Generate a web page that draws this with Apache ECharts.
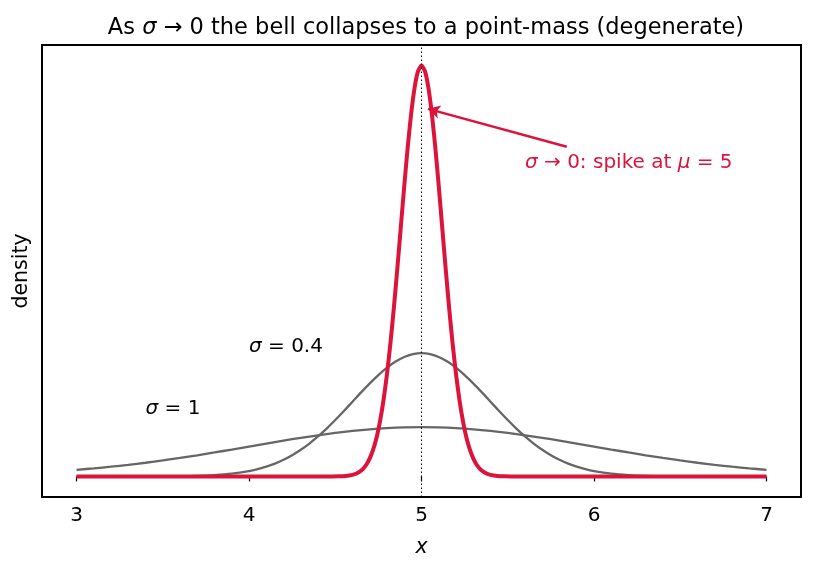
<!DOCTYPE html>
<html>
<head>
<meta charset="utf-8">
<script src="https://cdn.jsdelivr.net/npm/echarts@6/dist/echarts.min.js"></script>
<style>
  html, body { margin: 0; padding: 0; background: #fff; }
  #chart { width: 815px; height: 573px; }
</style>
</head>
<body>
<div id="chart"></div>
<script>
// x grid for the sigma = 1 curve
var xs1 = [3.0, 3.1, 3.2, 3.3, 3.4, 3.5, 3.6, 3.7, 3.8, 3.9,
  4.0, 4.1, 4.2, 4.3, 4.4, 4.5, 4.6, 4.7, 4.8, 4.9,
  5.0, 5.1, 5.2, 5.3, 5.4, 5.5, 5.6, 5.7, 5.8, 5.9,
  6.0, 6.1, 6.2, 6.3, 6.4, 6.5, 6.6, 6.7, 6.8, 6.9, 7.0];
var sigma1 = [0.0540, 0.0656, 0.0790, 0.0940, 0.1109, 0.1295, 0.1497, 0.1714, 0.1942, 0.2179,
  0.2420, 0.2661, 0.2897, 0.3123, 0.3332, 0.3521, 0.3683, 0.3814, 0.3910, 0.3970,
  0.3989, 0.3970, 0.3910, 0.3814, 0.3683, 0.3521, 0.3332, 0.3123, 0.2897, 0.2661,
  0.2420, 0.2179, 0.1942, 0.1714, 0.1497, 0.1295, 0.1109, 0.0940, 0.0790, 0.0656, 0.0540];

// sigma = 0.4 (denser around the middle)
var xs04 = [3.0, 3.1, 3.2, 3.3, 3.4, 3.5, 3.6, 3.7, 3.8, 3.9,
  4.0, 4.05, 4.1, 4.15, 4.2, 4.25, 4.3, 4.35, 4.4, 4.45,
  4.5, 4.55, 4.6, 4.65, 4.7, 4.75, 4.8, 4.85, 4.9, 4.95,
  5.0, 5.05, 5.1, 5.15, 5.2, 5.25, 5.3, 5.35, 5.4, 5.45,
  5.5, 5.55, 5.6, 5.65, 5.7, 5.75, 5.8, 5.85, 5.9, 5.95,
  6.0, 6.1, 6.2, 6.3, 6.4, 6.5, 6.6, 6.7, 6.8, 6.9, 7.0];
var sigma04 = [0.0000, 0.0000, 0.0000, 0.0001, 0.0003, 0.0009, 0.0022, 0.0051, 0.0111, 0.0227,
  0.0438, 0.0594, 0.0794, 0.1043, 0.1350, 0.1720, 0.2158, 0.2663, 0.3238, 0.3875,
  0.4566, 0.5297, 0.6049, 0.6801, 0.7528, 0.8204, 0.8802, 0.9296, 0.9667, 0.9896,
  0.9974, 0.9896, 0.9667, 0.9296, 0.8802, 0.8204, 0.7528, 0.6801, 0.6049, 0.5297,
  0.4566, 0.3875, 0.3238, 0.2663, 0.2158, 0.1720, 0.1350, 0.1043, 0.0794, 0.0594,
  0.0438, 0.0227, 0.0111, 0.0051, 0.0022, 0.0009, 0.0003, 0.0001, 0.0000, 0.0000, 0.0000];

// the spike (sigma -> 0)
var xsSpike = [3.0, 4.4, 4.48, 4.52, 4.56, 4.60, 4.62, 4.64, 4.66, 4.68,
  4.70, 4.72, 4.74, 4.76, 4.78, 4.80, 4.82, 4.84, 4.86, 4.88,
  4.90, 4.92, 4.94, 4.96, 4.98, 5.00, 5.02, 5.04, 5.06, 5.08,
  5.10, 5.12, 5.14, 5.16, 5.18, 5.20, 5.22, 5.24, 5.26, 5.28,
  5.30, 5.32, 5.34, 5.36, 5.38, 5.40, 5.44, 5.48, 5.52, 5.6, 7.0];
var spike = [0, 0, 0.0003, 0.0011, 0.0040, 0.0129, 0.0221, 0.0369, 0.0601, 0.0950,
  0.1461, 0.2185, 0.3179, 0.4499, 0.6193, 0.8290, 1.0793, 1.3667, 1.6833, 2.0164,
  2.3493, 2.6621, 2.9339, 3.1449, 3.2787, 3.3245, 3.2787, 3.1449, 2.9339, 2.6621,
  2.3493, 2.0164, 1.6833, 1.3667, 1.0793, 0.8290, 0.6193, 0.4499, 0.3179, 0.2185,
  0.1461, 0.0950, 0.0601, 0.0369, 0.0221, 0.0129, 0.0040, 0.0011, 0.0003, 0, 0];

var xTicks = [3, 4, 5, 6, 7];
var mu = 5;

function pairs(x, y) {
  return x.map(function (v, i) { return [v, y[i]]; });
}

var font = 'DejaVu Sans';
var crimson = '#DC143C';
var gray = '#666666';

function richFor(color, size) {
  return {
    i: { fontFamily: font, fontStyle: 'italic', fontSize: size, color: color },
    n: { fontFamily: font, fontSize: size, color: color }
  };
}

var chart = echarts.init(document.getElementById('chart'));

chart.setOption({
  animation: false,
  title: {
    text: '{n|As }{i|σ}{n| → 0 the bell collapses to a point-mass (degenerate)}',
    left: 421,
    top: 12,
    textAlign: 'center',
    textStyle: {
      fontFamily: font,
      fontSize: 22.5,
      fontWeight: 'normal',
      color: '#000',
      rich: richFor('#000', 22.5)
    }
  },
  grid: {
    left: 42, right: 14, top: 45, bottom: 76,
    show: true,
    borderColor: '#000',
    borderWidth: 2,
    backgroundColor: '#fff'
  },
  xAxis: {
    type: 'value',
    min: 2.8,
    max: 7.2,
    name: 'x',
    nameLocation: 'middle',
    nameGap: 41,
    nameTextStyle: { fontFamily: font, fontStyle: 'italic', fontSize: 20.5, color: '#000' },
    axisLine: { show: false },
    splitLine: { show: false },
    axisTick: {
      show: true, length: 5, inside: false,
      lineStyle: { color: '#000', width: 1.2 },
      customValues: xTicks
    },
    axisLabel: {
      fontFamily: font, fontSize: 20, color: '#000', margin: 9,
      customValues: xTicks
    }
  },
  yAxis: {
    type: 'value',
    min: -0.1662,
    max: 3.4907,
    name: 'density',
    nameLocation: 'middle',
    nameGap: 10,
    nameTextStyle: { fontFamily: font, fontSize: 20.5, color: '#000' },
    axisLine: { show: false },
    axisTick: { show: false },
    axisLabel: { show: false },
    splitLine: { show: false }
  },
  series: [
    {
      name: 'sigma1',
      type: 'line',
      data: pairs(xs1, sigma1),
      smooth: 0.3,
      symbol: 'none',
      lineStyle: { color: gray, width: 2.3 },
      markPoint: {
        symbol: 'circle',
        symbolSize: 0,
        label: {
          show: true, position: 'right', distance: 0, color: '#000',
          formatter: '{i|σ}{n| = 1}', rich: richFor('#000', 20)
        },
        data: [{ coord: [3.4, 0.545] }]
      }
    },
    {
      name: 'sigma04',
      type: 'line',
      data: pairs(xs04, sigma04),
      smooth: 0.3,
      symbol: 'none',
      lineStyle: { color: gray, width: 2.3 },
      markPoint: {
        symbol: 'circle',
        symbolSize: 0,
        label: {
          show: true, position: 'right', distance: 0, color: '#000',
          formatter: '{i|σ}{n| = 0.4}', rich: richFor('#000', 20)
        },
        data: [{ coord: [4.0, 1.045] }]
      }
    },
    {
      name: 'spike',
      type: 'line',
      data: pairs(xsSpike, spike),
      smooth: 0.2,
      symbol: 'none',
      z: 3,
      lineStyle: { color: crimson, width: 4, join: 'round' },
      markPoint: {
        symbol: 'circle',
        symbolSize: 0,
        label: {
          show: true, position: 'right', distance: 0, color: crimson,
          formatter: '{i|σ}{n| → 0: spike at }{i|μ}{n| = 5}',
          rich: richFor(crimson, 20)
        },
        data: [{ coord: [5.6, 2.538] }]
      },
      markLine: {
        silent: true,
        animation: false,
        label: { show: false },
        data: [
          [
            { coord: [5.842, 2.667], symbol: 'none', lineStyle: { color: crimson, width: 2.5, type: 'solid' } },
            { coord: [5.038, 2.974], symbol: 'arrow', symbolSize: [10, 12] }
          ]
        ]
      }
    },
    {
      name: 'mu',
      type: 'line',
      data: [],
      z: 5,
      markLine: {
        silent: true,
        animation: false,
        symbol: 'none',
        label: { show: false },
        lineStyle: { color: '#000', width: 1, type: [1.5, 2.5] },
        data: [[{ coord: [mu, -0.1662] }, { coord: [mu, 3.4907] }]]
      }
    }
  ]
});
</script>
</body>
</html>
